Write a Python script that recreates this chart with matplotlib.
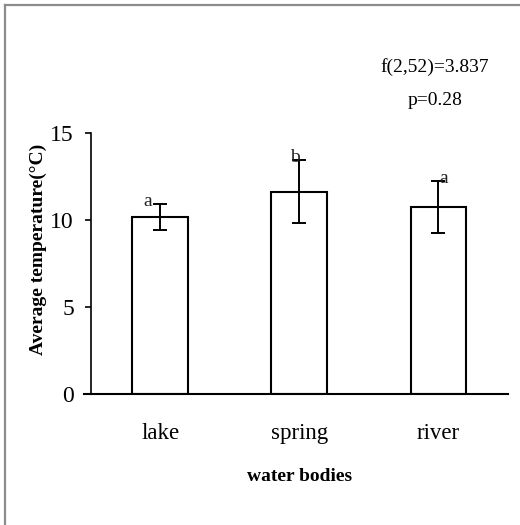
import matplotlib
matplotlib.use("Agg")
import matplotlib.pyplot as plt
from matplotlib.lines import Line2D

plt.rcParams['font.family'] = ['Liberation Serif', 'DejaVu Serif']

# data
water_bodies = ["lake", "spring", "river"]
mean_temp = [10.17, 11.62, 10.75]
temp_err = [0.75, 1.80, 1.47]
group_letters = ["a", "b", "a"]
letter_dx = [-0.09, -0.03, 0.035]

fig = plt.figure(figsize=(5.2, 5.25), dpi=100)
ax = fig.add_axes([84 / 520, 1 - 394 / 525, 424 / 520, 261 / 525])

x = list(range(len(water_bodies)))
ax.bar(x, mean_temp, width=0.4, color="white", edgecolor="black", linewidth=1.5, zorder=2)
ax.errorbar(x, mean_temp, yerr=temp_err, fmt="none", ecolor="black",
            elinewidth=1.4, capsize=5, capthick=1.4, zorder=3)

for i in x:
    ax.text(i + letter_dx[i], mean_temp[i] + temp_err[i] + 0.15, group_letters[i],
            ha="center", va="center", fontsize=14, color="#222222", zorder=4)

ax.set_xlim(-0.547, 2.5)
ax.set_ylim(0, 15)
ax.set_yticks([0, 5, 10, 15])
ax.set_xticks(x)
ax.set_xticklabels(water_bodies)

ax.spines["top"].set_visible(False)
ax.spines["right"].set_visible(False)
ax.spines["left"].set_position(("data", -0.5))
ax.spines["left"].set_linewidth(1.2)
ax.spines["bottom"].set_linewidth(1.5)

ax.tick_params(axis="y", direction="out", length=4, width=1.2, pad=8, labelsize=17)
ax.tick_params(axis="x", length=0, pad=21, labelsize=16.5)

ax.set_xlabel("water bodies", fontsize=14, fontweight="bold")
ax.xaxis.set_label_coords(0.509, -0.283)
ax.xaxis.label.set_va("top")
ax.set_ylabel("Average temperature(°C)", fontsize=14, fontweight="bold")
ax.yaxis.set_label_coords(-0.087, 0.556)

fig.text(435 / 520, 1 - 67 / 525, "f(2,52)=3.837", ha="center", va="center", fontsize=14)
fig.text(435 / 520, 1 - 101 / 525, "p=0.28", ha="center", va="center", fontsize=14)

# grey frame on top and left edges
fig.add_artist(Line2D([5 / 520, 5 / 520], [0, 1 - 5 / 525], transform=fig.transFigure,
                      color="#8c8c8c", linewidth=1.6))
fig.add_artist(Line2D([5 / 520, 1], [1 - 5 / 525, 1 - 5 / 525], transform=fig.transFigure,
                      color="#8c8c8c", linewidth=1.6))

fig.savefig("out.png", dpi=100)
